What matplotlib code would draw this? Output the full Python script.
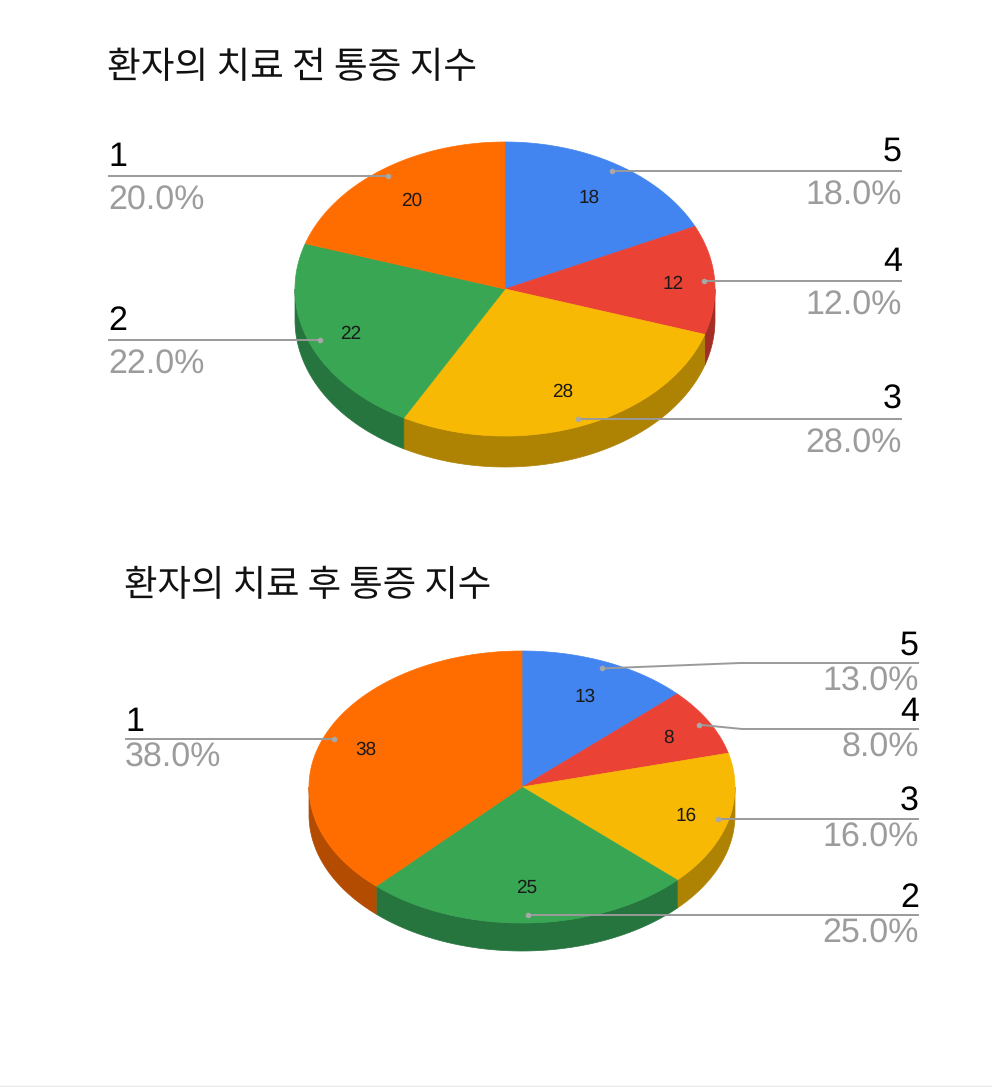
import numpy as np
import matplotlib
matplotlib.use("Agg")
import matplotlib.pyplot as plt

plt.rcParams['font.family'] = ['Liberation Sans', 'Noto Sans CJK KR', 'DejaVu Sans']
plt.rcParams['text.hinting'] = 'no_hinting'
plt.rcParams['text.hinting_factor'] = 1

# slices go clockwise from 12 o'clock
categories = ["5", "4", "3", "2", "1"]
before_values = [18, 12, 28, 22, 20]
after_values = [13, 8, 16, 25, 38]
before_title = "환자의 치료 전 통증 지수"
after_title = "환자의 치료 후 통증 지수"

colors = ["#4285F0", "#EA4335", "#F8B904", "#38A652", "#FF6D01"]
side_colors = ["#2E5DAA", "#A32E25", "#AE8203", "#26753F", "#B34C00"]
line_color = "#9A9A9A"
pct_color = "#9C9C9C"


def arc(cx, cy, rx, ry, a0, a1, dy=0):
    t = np.radians(np.linspace(a0, a1, 120))
    return cx + rx * np.sin(t), cy - ry * np.cos(t) + dy


def draw_pie(ax, values, cx, cy, rx, ry, depth, left_x, right_x, sides, line_ys, elbows, name_gap, pct_gap):
    total = sum(values)
    edges = np.cumsum([0] + values) / total * 360

    # side wall first, only the front half of the pie shows
    for i in range(len(values)):
        a0 = max(edges[i], 90)
        a1 = min(edges[i + 1], 270)
        if a1 <= a0:
            continue
        x, y = arc(cx, cy, rx, ry, a0, a1)
        x2, y2 = arc(cx, cy, rx, ry, a0, a1, depth)
        ax.fill(np.r_[x, x2[::-1]], np.r_[y, y2[::-1]], color=side_colors[i], lw=0.5, zorder=2)

    for i in range(len(values)):
        x, y = arc(cx, cy, rx, ry, edges[i], edges[i + 1])
        ax.fill(np.r_[cx, x], np.r_[cy, y], color=colors[i], lw=0.5, zorder=3)

    for i, v in enumerate(values):
        mid = np.radians((edges[i] + edges[i + 1]) / 2)
        # inner labels sit a bit further out towards the sides
        r = 0.73 + 0.07 * np.sin(mid) ** 2
        ax.text(cx + r * rx * np.sin(mid), cy - r * ry * np.cos(mid) + 2, str(v),
                fontsize=13.5, color="#1a1a1a", ha="center", va="center", zorder=5)

        px = cx + 0.95 * rx * np.sin(mid)
        py = cy - 0.95 * ry * np.cos(mid)
        side = sides[i]
        ly = line_ys[i]
        end = right_x if side == "r" else left_x
        ha = "right" if side == "r" else "left"
        if elbows[i] is not None:
            xs = [px, elbows[i], end]
            ys = [py, ly, ly]
        else:
            xs = [px, end]
            ys = [ly, ly]
            py = ly
        ax.plot(xs, ys, color=line_color, lw=1.4, zorder=4, solid_capstyle="butt")
        ax.plot(px, py, "o", color="#A8A8A8", ms=4, mew=0, zorder=6)
        ax.text(end, ly - name_gap, categories[i], fontsize=24.5, color="black", ha=ha, va="baseline", zorder=5)
        ax.text(end, ly + pct_gap, f"{v / total * 100:.1f}%", fontsize=24.3, color=pct_color, ha=ha, va="baseline", zorder=5)


fig = plt.figure(figsize=(9.92, 10.87), dpi=100)
ax = fig.add_axes([0, 0, 1, 1])
ax.set_xlim(0, 992)
ax.set_ylim(1087, 0)
ax.axis("off")

ax.text(107, 78, before_title, fontsize=26.4, color="#111111", ha="left", va="baseline",
        family=['Noto Sans CJK KR', 'DejaVu Sans'])
draw_pie(ax, before_values, 505, 289, 210, 147, 31, 108, 902,
         ["r", "r", "r", "l", "l"], [171, 281, 419, 340, 176],
         [None, None, None, None, None], 10, 34)

ax.text(124, 596, after_title, fontsize=26.2, color="#111111", ha="left", va="baseline",
        family=['Noto Sans CJK KR', 'DejaVu Sans'])
draw_pie(ax, after_values, 522, 787, 213, 136, 28, 125, 919,
         ["r", "r", "r", "r", "l"], [663, 729, 819, 915, 739],
         [740, 742, None, None, None], 8, 28)

# faint page edge at the very bottom
ax.axhline(1086, color="#E8E8E8", lw=1)

fig.savefig("out.png", dpi=100)
